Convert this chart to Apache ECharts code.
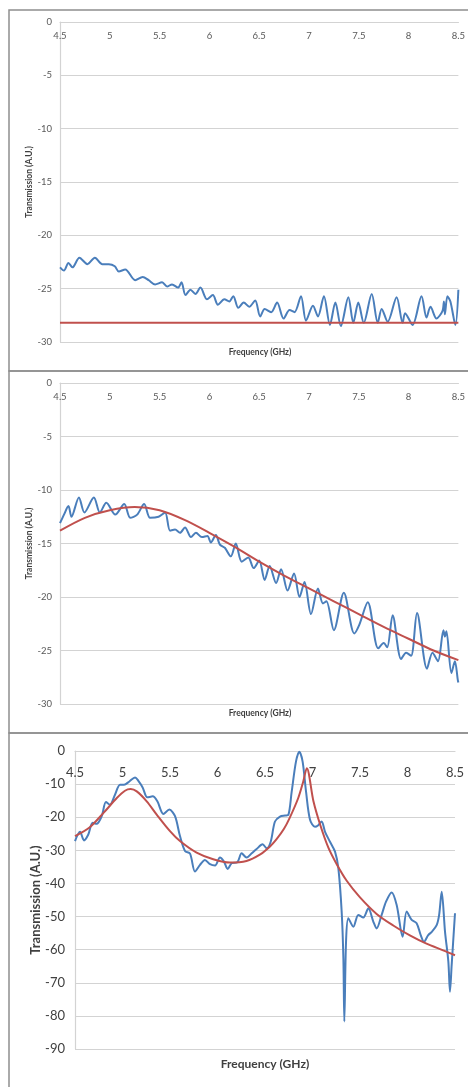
<!DOCTYPE html>
<html>
<head>
    <meta charset="UTF-8">
    <title>Transmission</title>
    <style>
        html, body { margin: 0; padding: 0; background: #fff; }
        #main { width: 468px; height: 1087px; }
    </style>
    <script src="https://cdn.jsdelivr.net/npm/echarts@6/dist/echarts.min.js"></script>
</head>
<body>
<div id="main"></div>
<script>
    // 频率 (GHz) / 透射 (A.U.)  -- [f, value]
    var panel1Measured = [
        [4.50,-23.0],[4.54,-23.3],[4.585,-22.6],[4.625,-23.0],[4.695,-22.1],[4.775,-22.7],
        [4.85,-22.1],[4.925,-22.7],[4.99,-22.7],[5.05,-22.9],[5.09,-23.4],[5.155,-23.2],
        [5.255,-24.2],[5.33,-23.9],[5.39,-24.2],[5.455,-24.6],[5.525,-24.4],[5.575,-24.8],
        [5.625,-24.6],[5.685,-24.9],[5.72,-24.4],[5.76,-25.6],[5.81,-25.1],[5.86,-25.5],
        [5.91,-24.9],[5.975,-26.0],[6.035,-25.6],[6.085,-26.5],[6.15,-26.0],[6.2,-26.2],
        [6.24,-25.7],[6.29,-26.8],[6.345,-26.3],[6.4,-26.7],[6.46,-26.1],[6.51,-27.6],
        [6.555,-26.9],[6.62,-27.2],[6.68,-26.3],[6.745,-27.8],[6.805,-27.0],[6.855,-27.2],
        [6.92,-25.7],[6.97,-28.0],[7.04,-26.6],[7.09,-27.6],[7.15,-25.7],[7.21,-28.4],
        [7.265,-26.3],[7.32,-28.5],[7.395,-25.8],[7.445,-28.2],[7.495,-26.3],[7.55,-28.2],
        [7.63,-25.5],[7.69,-28.2],[7.73,-26.9],[7.79,-28.1],[7.88,-25.8],[7.94,-28.2],
        [7.965,-27.3],[8.04,-28.4],[8.13,-25.7],[8.18,-27.7],[8.22,-26.7],[8.28,-27.8],
        [8.34,-27.1],[8.355,-26.2],[8.365,-27.4],[8.39,-25.7],[8.42,-26.2],[8.47,-28.4],
        [8.5,-25.1]
    ];
    var panel1Fit = [[4.5,-28.2],[8.5,-28.2]];

    var panel2Measured = [
        [4.50,-13.1],[4.54,-12.3],[4.585,-11.5],[4.615,-12.5],[4.69,-10.7],[4.745,-12.1],
        [4.84,-10.7],[4.90,-12.1],[4.965,-11.2],[5.055,-12.3],[5.145,-11.3],[5.205,-12.6],
        [5.275,-12.3],[5.345,-11.3],[5.405,-12.6],[5.49,-12.5],[5.555,-12.1],[5.605,-13.8],
        [5.655,-13.7],[5.705,-14.0],[5.755,-13.5],[5.815,-14.4],[5.865,-14.0],[5.925,-14.4],
        [5.98,-14.3],[6.015,-14.9],[6.065,-14.2],[6.105,-15.1],[6.155,-15.4],[6.215,-16.2],
        [6.265,-15.0],[6.325,-16.7],[6.39,-16.3],[6.445,-17.3],[6.5,-16.6],[6.555,-18.4],
        [6.605,-17.1],[6.67,-18.7],[6.72,-17.4],[6.785,-19.4],[6.85,-17.8],[6.905,-20.0],
        [6.955,-18.6],[7.02,-21.6],[7.09,-19.2],[7.14,-20.6],[7.175,-20.4],[7.25,-23.1],
        [7.35,-19.6],[7.455,-23.4],[7.505,-22.6],[7.59,-20.5],[7.695,-24.8],[7.75,-24.3],
        [7.785,-24.7],[7.84,-21.7],[7.925,-25.8],[7.975,-25.2],[8.025,-25.5],[8.085,-21.5],
        [8.185,-26.7],[8.24,-25.2],[8.295,-26.0],[8.35,-23.1],[8.365,-23.7],[8.38,-23.2],
        [8.43,-27.1],[8.465,-26.0],[8.495,-27.8],[8.5,-28.0]
    ];
    var panel2Fit = [
        [4.5,-13.8],[4.75,-12.6],[5.0,-11.9],[5.25,-11.6],[5.5,-11.9],[5.75,-12.8],
        [6.0,-14.0],[6.25,-15.3],[6.5,-16.7],[6.75,-18.0],[7.0,-19.2],[7.25,-20.4],
        [7.5,-21.6],[7.75,-22.8],[8.0,-23.9],[8.25,-25.0],[8.5,-25.9]
    ];

    var panel3Measured = [
        [4.50,-27.2],[4.553,-24.4],[4.595,-27.0],[4.64,-25.2],[4.686,-21.7],[4.728,-22.0],
        [4.781,-19.7],[4.826,-15.4],[4.868,-16.2],[4.921,-13.2],[4.974,-10.2],[5.016,-10.2],
        [5.072,-9.2],[5.132,-8.0],[5.167,-9.0],[5.212,-11.0],[5.261,-14.0],[5.318,-13.7],
        [5.367,-15.2],[5.43,-19.0],[5.493,-17.7],[5.553,-19.7],[5.605,-25.7],[5.658,-30.2],
        [5.711,-31.0],[5.763,-36.4],[5.816,-34.4],[5.868,-32.9],[5.921,-34.2],[5.974,-34.6],
        [6.026,-32.2],[6.068,-33.4],[6.107,-35.6],[6.149,-33.9],[6.209,-33.6],[6.254,-30.9],
        [6.307,-32.2],[6.36,-30.9],[6.412,-29.6],[6.475,-28.2],[6.518,-29.4],[6.56,-27.4],
        [6.605,-21.3],[6.658,-19.8],[6.711,-19.5],[6.746,-19.3],[6.781,-12.3],[6.826,-3.2],
        [6.861,-0.2],[6.896,-3.2],[6.932,-12.3],[6.974,-20.8],[7.026,-22.9],[7.061,-22.4],
        [7.096,-21.3],[7.132,-24.4],[7.184,-27.4],[7.237,-30.4],[7.272,-35.4],[7.307,-48.5],
        [7.325,-62.6],[7.335,-81.7],[7.353,-57.6],[7.377,-50.5],[7.43,-53.1],[7.482,-49.5],
        [7.535,-50.3],[7.588,-47.5],[7.64,-51.5],[7.675,-53.6],[7.728,-49.5],[7.774,-45.5],
        [7.833,-42.7],[7.886,-46.5],[7.949,-56.1],[7.991,-48.5],[8.044,-51.0],[8.096,-52.0],
        [8.139,-55.6],[8.174,-57.6],[8.218,-55.6],[8.256,-54.6],[8.307,-52.6],[8.333,-49.5],
        [8.36,-42.5],[8.395,-54.6],[8.43,-63.6],[8.447,-72.7],[8.465,-64.6],[8.5,-49.0]
    ];
    var panel3Fit = [
        [4.5,-25.7],[4.656,-23.0],[4.8,-18.7],[4.94,-14.2],[5.026,-12.0],[5.086,-11.5],
        [5.15,-12.2],[5.255,-15.2],[5.36,-19.2],[5.5,-24.2],[5.605,-27.2],[5.78,-30.7],
        [5.955,-32.7],[6.13,-33.7],[6.305,-33.2],[6.45,-31.2],[6.55,-28.9],[6.62,-26.7],
        [6.7,-23.5],[6.76,-20.2],[6.85,-14.2],[6.9,-9.5],[6.94,-5.2],[7.01,-15.2],
        [7.08,-22.2],[7.167,-29.2],[7.255,-34.2],[7.36,-39.2],[7.5,-44.2],[7.675,-49.2],
        [7.85,-52.7],[8.025,-55.7],[8.2,-58.2],[8.375,-60.2],[8.5,-61.7]
    ];

    var yTitle = 'Transmission (A.U.)';
    var xTitle = 'Frequency (GHz)';

    var FONT = 'Lato, "Open Sans", sans-serif';
    var BLUE = '#4A7EBB';
    var RED = '#C0504D';
    var GRIDC = '#d3d3d3';

    function makeX(idx, fs, margin, color) {
        return {
            gridIndex: idx, type: 'value', min: 4.5, max: 8.5, interval: 0.5,
            position: 'top',
            axisLine: { show: true, onZero: false, lineStyle: { color: GRIDC, width: 1.2 } },
            axisTick: { show: false },
            splitLine: { show: false },
            axisLabel: { inside: true, margin: margin, fontSize: fs, color: color, fontFamily: FONT }
        };
    }
    function makeY(idx, min, step, fs, margin, color, nameFs, nameGap) {
        return {
            gridIndex: idx, type: 'value', min: min, max: 0, interval: step,
            axisLine: { show: true, onZero: false, lineStyle: { color: GRIDC, width: 1.2 } },
            axisTick: { show: false },
            splitLine: { show: true, lineStyle: { color: GRIDC, width: 1.2 } },
            axisLabel: { margin: margin, fontSize: fs, color: color, fontFamily: FONT },
            name: yTitle, nameLocation: 'middle', nameRotate: 90, nameGap: nameGap,
            nameMoveOverlap: false,
            nameTextStyle: { fontSize: nameFs, fontWeight: 'bold', color: '#404040', fontFamily: FONT }
        };
    }
    function line(idx, data, color) {
        return {
            type: 'line', xAxisIndex: idx, yAxisIndex: idx, data: data,
            showSymbol: false, smooth: 0.3, animation: false,
            lineStyle: { color: color, width: 2 }, itemStyle: { color: color }
        };
    }
    function frame(y, h) {
        return { type: 'rect', shape: { x: 9, y: y, width: 470, height: h },
                 style: { fill: null, stroke: '#8f8f8f', lineWidth: 1.5 }, silent: true };
    }
    function label(x, y, fs) {
        return { type: 'text', x: x, y: y,
                 style: { text: xTitle, fontSize: fs, fontWeight: 'bold', fontFamily: FONT,
                          fill: '#404040', align: 'center', verticalAlign: 'middle' } };
    }

    var myChart = echarts.init(document.getElementById('main'));
    var option = {
        backgroundColor: '#fff',
        animation: false,
        grid: [
            { left: 60, top: 22, width: 400, height: 320 },
            { left: 60, top: 383, width: 400, height: 321 },
            { left: 75, top: 751, width: 380, height: 298 }
        ],
        xAxis: [
            makeX(0, 9.5, 9, '#595959'),
            makeX(1, 9.5, 9, '#595959'),
            makeX(2, 13, 15, '#404040')
        ],
        yAxis: [
            makeY(0, -30, 5, 9.5, 8, '#595959', 8.5, 26),
            makeY(1, -30, 5, 9.5, 8, '#595959', 8.5, 26),
            makeY(2, -90, 10, 13, 10, '#404040', 13, 33)
        ],
        graphic: [
            frame(10, 361), frame(371, 362), frame(733, 360),
            label(260, 352, 8.5), label(260, 713, 8.5), label(265, 1064, 12)
        ],
        series: [
            line(0, panel1Measured, BLUE), line(0, panel1Fit, RED),
            line(1, panel2Measured, BLUE), line(1, panel2Fit, RED),
            line(2, panel3Measured, BLUE), line(2, panel3Fit, RED)
        ]
    };
    myChart.setOption(option);
</script>
</body>
</html>
